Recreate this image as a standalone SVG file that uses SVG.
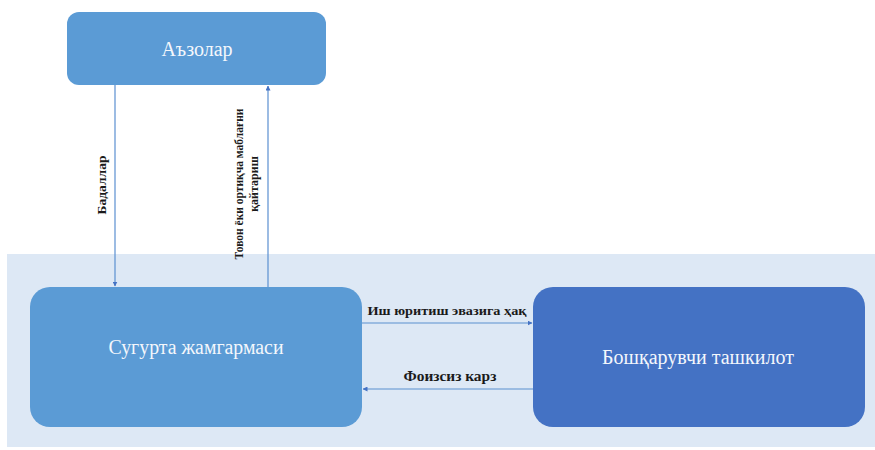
<svg xmlns="http://www.w3.org/2000/svg" width="875" height="450" viewBox="0 0 875 450">
<defs>
<style>
.node text{font-family:'Liberation Serif','Times New Roman',serif;fill:#f4f7fc;font-size:20px;text-anchor:middle;dominant-baseline:central}
.lbl{font-family:'Liberation Serif','Times New Roman',serif;font-weight:bold;fill:#1a1a1a;text-anchor:middle}
.conn line{stroke:#5b8fd0;stroke-width:1.2;fill:none}
</style>
<marker id="ah" viewBox="0 0 10 10" refX="9" refY="5" markerWidth="5" markerHeight="5" orient="auto-start-reverse" markerUnits="userSpaceOnUse">
<path d="M0,0 L10,5 L0,10 z" fill="#4472c4"/>
</marker>
</defs>
<rect x="0" y="0" width="875" height="450" fill="#ffffff"/>
<rect id="band" x="7" y="254" width="868" height="193" fill="#dde8f5"/>
<g id="n-azolar" class="node">
<rect x="67" y="12" width="259" height="73" rx="12" fill="#5b9bd5"/>
<text x="197" y="49" font-family="Liberation Serif, serif">Аъзолар</text>
</g>
<g id="n-fund" class="node">
<rect x="30" y="287" width="332" height="140" rx="20" fill="#5b9bd5"/>
<text x="196" y="347" font-family="Liberation Serif, serif" textLength="175" lengthAdjust="spacingAndGlyphs">Сугурта жамгармаси</text>
</g>
<g id="n-manager" class="node">
<rect x="533" y="287" width="332" height="140" rx="20" fill="#4472c4"/>
<text x="698" y="357" font-family="Liberation Serif, serif">Бошқарувчи ташкилот</text>
</g>
<g id="connectors" class="conn">
<line x1="115" y1="85" x2="115" y2="286" marker-end="url(#ah)"/>
<line x1="268" y1="287" x2="268" y2="86" marker-end="url(#ah)"/>
<line x1="362" y1="323" x2="532" y2="323" marker-end="url(#ah)"/>
<line x1="533" y1="389" x2="363" y2="389" marker-end="url(#ah)"/>
</g>
<g id="labels">
<text class="lbl" font-size="13.5" transform="translate(106,185) rotate(-90)">Бадаллар</text>
<text class="lbl" font-size="11.5" transform="translate(243,184) rotate(-90)">Товон ёки ортиқча маблағни</text>
<text class="lbl" font-size="12" transform="translate(258,184) rotate(-90)">қайтариш</text>
<text class="lbl" font-size="13.5" x="447" y="315" textLength="159" lengthAdjust="spacingAndGlyphs">Иш юритиш эвазига ҳақ</text>
<text class="lbl" font-size="14" x="450" y="381" textLength="93" lengthAdjust="spacingAndGlyphs">Фоизсиз карз</text>
</g>
</svg>
